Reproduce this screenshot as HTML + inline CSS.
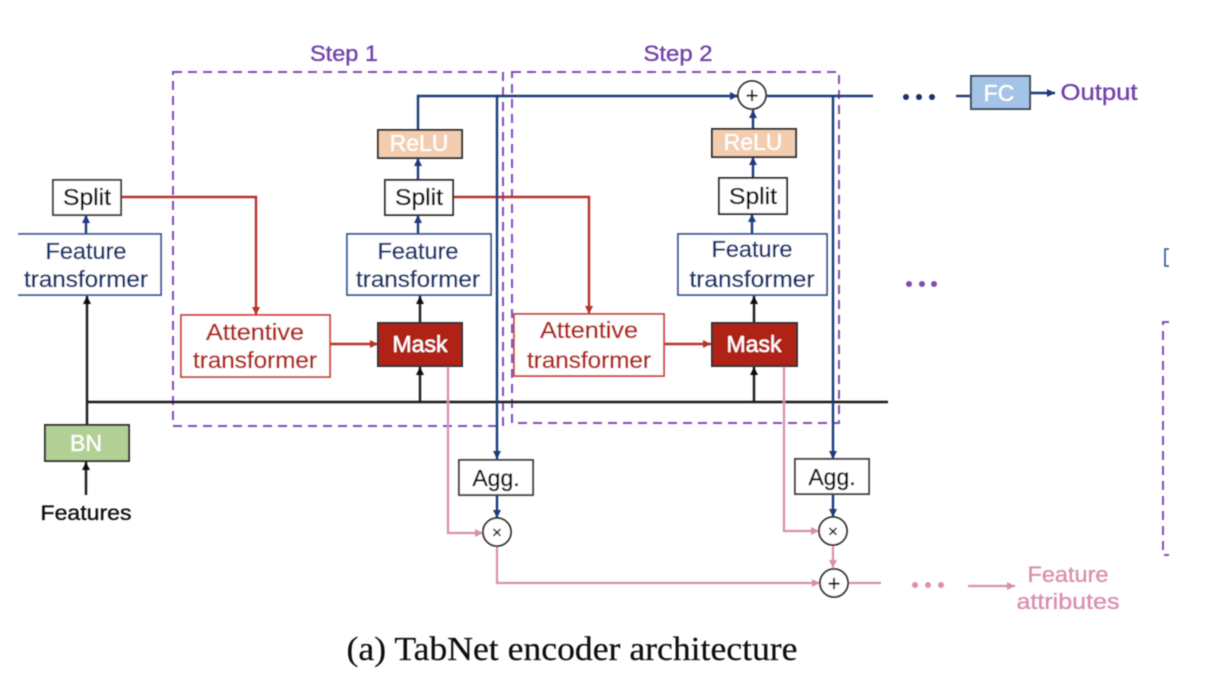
<!DOCTYPE html>
<html><head><meta charset="utf-8"><style>
html,body{margin:0;padding:0;background:#fff}
svg{display:block}
text{font-family:"Liberation Sans",sans-serif;font-size:23px;text-anchor:middle;stroke-width:.35px}
.k{fill:#0c0c0c;stroke:#0c0c0c}
.bl{fill:#14306a;stroke:#14306a}
.rd{fill:#b02418;stroke:#b02418}
.pu{fill:#7340ab;stroke:#7340ab}
.pk{fill:#d98fb0;stroke:#d98fb0}
.wh{fill:#fff;stroke:#fff}
</style></head><body>
<svg width="1220" height="674" viewBox="0 0 1220 674" xmlns="http://www.w3.org/2000/svg">
<defs>
<filter id="b" x="-5%" y="-5%" width="110%" height="110%"><feGaussianBlur stdDeviation="0.45"/></filter>
<marker id="k" markerUnits="userSpaceOnUse" markerWidth="10" markerHeight="10" refX="9" refY="5" orient="auto"><path d="M1 1L9 5L1 9Z" fill="#111"/></marker>
<marker id="n" markerUnits="userSpaceOnUse" markerWidth="10" markerHeight="10" refX="9" refY="5" orient="auto"><path d="M1 1L9 5L1 9Z" fill="#1a3a7a"/></marker>
<marker id="r" markerUnits="userSpaceOnUse" markerWidth="10" markerHeight="10" refX="9" refY="5" orient="auto"><path d="M1 1L9 5L1 9Z" fill="#b8332a"/></marker>
<marker id="p" markerUnits="userSpaceOnUse" markerWidth="10" markerHeight="10" refX="9" refY="5" orient="auto"><path d="M1 1L9 5L1 9Z" fill="#d98fb0"/></marker>
</defs>
<g filter="url(#b)">
<!-- dashed step boxes -->
<g fill="none" stroke="#8150b5" stroke-width="2" stroke-dasharray="9 6">
<rect x="173" y="72" width="330" height="354"/>
<rect x="512" y="72" width="327" height="351"/>
<path d="M1169 322H1163V555H1169"/>
</g>
<text x="344" y="61" class="pu" textLength="68" lengthAdjust="spacingAndGlyphs" style="font-size:22px">Step 1</text>
<text x="678" y="61" class="pu" textLength="69" lengthAdjust="spacingAndGlyphs" style="font-size:22px">Step 2</text>

<!-- black lines -->
<g fill="none" stroke="#1a1a1a" stroke-width="2.4">
<path d="M87 402H888"/>
<path d="M87 425V296" marker-end="url(#k)"/>
<path d="M86 495V462" marker-end="url(#k)"/>
<path d="M420 402V367" marker-end="url(#k)"/>
<path d="M754 402V367" marker-end="url(#k)"/>
<path d="M420 323V296" marker-end="url(#k)"/>
<path d="M754 323V296" marker-end="url(#k)"/>
</g>

<!-- pink lines -->
<g fill="none" stroke="#d98fb0" stroke-width="2.2">
<path d="M448 366V533H483" marker-end="url(#p)"/>
<path d="M784 366V531H819" marker-end="url(#p)"/>
<path d="M497 546V583H820" marker-end="url(#p)"/>
<path d="M833 545V568" marker-end="url(#p)"/>
<path d="M848 583H881"/>
<path d="M968 586H1015" marker-end="url(#p)"/>
</g>

<!-- red lines -->
<g fill="none" stroke="#b8332a" stroke-width="2.4">
<path d="M121 197H256V315" marker-end="url(#r)"/>
<path d="M453 197H589V314" marker-end="url(#r)"/>
<path d="M330 344H378" marker-end="url(#r)"/>
<path d="M664 344H711" marker-end="url(#r)"/>
</g>

<!-- blue lines -->
<g fill="none" stroke="#1a3a7a" stroke-width="2.4">
<path d="M418 130V96H738" marker-end="url(#n)"/>
<path d="M767 96H873"/>
<path d="M497 96V459" marker-end="url(#n)"/>
<path d="M833 96V459" marker-end="url(#n)"/>
<path d="M497 495V518" marker-end="url(#n)"/>
<path d="M833 494V517" marker-end="url(#n)"/>
<path d="M86 234V215" marker-end="url(#n)"/>
<path d="M418 234V215" marker-end="url(#n)"/>
<path d="M752 234V214" marker-end="url(#n)"/>
<path d="M418 180V158" marker-end="url(#n)"/>
<path d="M753 178V157" marker-end="url(#n)"/>
<path d="M753 129V110" marker-end="url(#n)"/>
<path d="M956 96H971"/>
<path d="M1030 93H1055" marker-end="url(#n)"/>
</g>

<!-- FC -->
<rect x="971" y="76" width="59" height="33" fill="#a3c4e6" stroke="#3a4a5a" stroke-width="2"/>
<text x="999" y="101" class="wh">FC</text>
<text x="1099" y="100" class="pu" textLength="77" lengthAdjust="spacingAndGlyphs">Output</text>

<!-- dots -->
<circle cx="906" cy="97" r="3" fill="#1f2f6f"/><circle cx="919" cy="97" r="3" fill="#1f2f6f"/><circle cx="932" cy="97" r="3" fill="#1f2f6f"/>
<circle cx="909" cy="284" r="3" fill="#7d4fb0"/><circle cx="922" cy="284" r="3" fill="#7d4fb0"/><circle cx="934" cy="284" r="3" fill="#7d4fb0"/>
<circle cx="915" cy="585" r="3" fill="#d98fb0"/><circle cx="928" cy="585" r="3" fill="#d98fb0"/><circle cx="941" cy="585" r="3" fill="#d98fb0"/>

<!-- Step 0 -->
<rect x="53" y="180" width="68" height="35" fill="#fff" stroke="#444" stroke-width="2"/>
<text x="87" y="205" class="k" textLength="48" lengthAdjust="spacingAndGlyphs">Split</text>
<path d="M18 234H161V295H18" fill="#fff" stroke="#2f5597" stroke-width="1.8"/>
<text x="86" y="259" class="bl" textLength="81" lengthAdjust="spacingAndGlyphs">Feature</text>
<text x="86" y="287" class="bl" textLength="124" lengthAdjust="spacingAndGlyphs">transformer</text>
<rect x="45" y="425" width="84" height="36" fill="#b2d096" stroke="#333" stroke-width="2"/>
<text x="86" y="451" class="wh">BN</text>
<text x="86" y="520" class="k" textLength="91" lengthAdjust="spacingAndGlyphs" style="font-size:21px">Features</text>

<!-- Step 1 boxes -->
<rect x="378" y="130" width="84" height="28" fill="#f3cdb0" stroke="#333" stroke-width="2"/>
<text x="419" y="151" class="wh">ReLU</text>
<rect x="385" y="180" width="68" height="35" fill="#fff" stroke="#333" stroke-width="2"/>
<text x="419" y="205" class="k" textLength="48" lengthAdjust="spacingAndGlyphs">Split</text>
<rect x="347" y="234" width="144" height="61" fill="#fff" stroke="#2f5597" stroke-width="1.8"/>
<text x="418" y="259" class="bl" textLength="81" lengthAdjust="spacingAndGlyphs">Feature</text>
<text x="418" y="287" class="bl" textLength="124" lengthAdjust="spacingAndGlyphs">transformer</text>
<rect x="181" y="315" width="149" height="62" fill="#fff" stroke="#c9403a" stroke-width="1.8"/>
<text x="255" y="340" class="rd" textLength="98" lengthAdjust="spacingAndGlyphs">Attentive</text>
<text x="255" y="368" class="rd" textLength="124" lengthAdjust="spacingAndGlyphs">transformer</text>
<rect x="378" y="323" width="84" height="43" fill="#b02418" stroke="#333" stroke-width="2"/>
<text x="420" y="352" class="wh">Mask</text>

<!-- Step 2 boxes -->
<circle cx="752" cy="95" r="14" fill="#fff" stroke="#222" stroke-width="1.8"/>
<text x="752" y="103" class="k" style="font-size:22px">+</text>
<rect x="712" y="129" width="84" height="28" fill="#f3cdb0" stroke="#333" stroke-width="2"/>
<text x="753" y="150" class="wh">ReLU</text>
<rect x="719" y="178" width="68" height="36" fill="#fff" stroke="#333" stroke-width="2"/>
<text x="753" y="204" class="k" textLength="48" lengthAdjust="spacingAndGlyphs">Split</text>
<rect x="678" y="234" width="149" height="61" fill="#fff" stroke="#2f5597" stroke-width="1.8"/>
<text x="752" y="257" class="bl" textLength="81" lengthAdjust="spacingAndGlyphs">Feature</text>
<text x="752" y="287" class="bl" textLength="125" lengthAdjust="spacingAndGlyphs">transformer</text>
<rect x="514" y="314" width="150" height="62" fill="#fff" stroke="#c9403a" stroke-width="1.8"/>
<text x="589" y="338" class="rd" textLength="98" lengthAdjust="spacingAndGlyphs">Attentive</text>
<text x="589" y="368" class="rd" textLength="124" lengthAdjust="spacingAndGlyphs">transformer</text>
<rect x="712" y="323" width="85" height="43" fill="#b02418" stroke="#333" stroke-width="2"/>
<text x="754" y="352" class="wh">Mask</text>

<!-- Agg & ops -->
<rect x="459" y="460" width="74" height="35" fill="#fff" stroke="#444" stroke-width="2"/>
<text x="496" y="486" class="k">Agg.</text>
<rect x="795" y="459" width="74" height="35" fill="#fff" stroke="#444" stroke-width="2"/>
<text x="832" y="485" class="k">Agg.</text>
<circle cx="497" cy="532" r="14" fill="#fff" stroke="#222" stroke-width="1.8"/>
<text x="497" y="538" class="k" style="font-size:17px">×</text>
<circle cx="833" cy="531" r="14" fill="#fff" stroke="#222" stroke-width="1.8"/>
<text x="833" y="537" class="k" style="font-size:17px">×</text>
<circle cx="834" cy="583" r="14" fill="#fff" stroke="#222" stroke-width="1.8"/>
<text x="834" y="591" class="k" style="font-size:22px">+</text>

<text x="1068" y="582" class="pk" textLength="81" lengthAdjust="spacingAndGlyphs" style="font-size:22px">Feature</text>
<text x="1068" y="609" class="pk" textLength="103" lengthAdjust="spacingAndGlyphs" style="font-size:22px">attributes</text>

<!-- clipped fragment at right edge -->
<path d="M1169 249H1165V266H1169" fill="none" stroke="#2f5597" stroke-width="1.6"/>

<text x="572" y="660" class="k" textLength="451" lengthAdjust="spacingAndGlyphs" style="font-family:'Liberation Serif',serif;font-size:34px;stroke-width:.2px">(a)  TabNet encoder architecture</text>
</g>
</svg>
</body></html>
